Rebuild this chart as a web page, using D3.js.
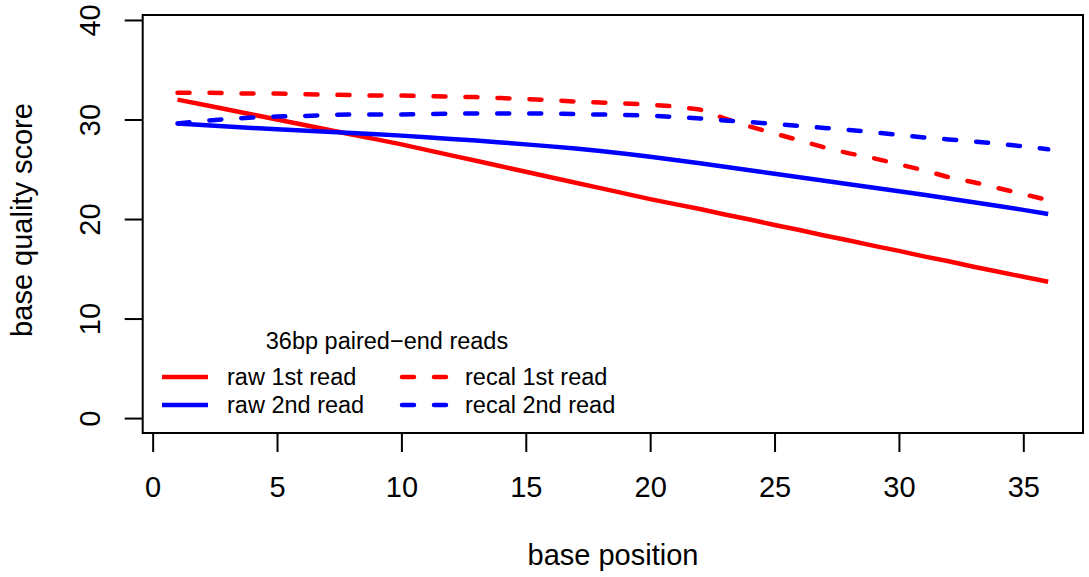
<!DOCTYPE html>
<html>
<head>
<meta charset="utf-8">
<script src="https://cdn.jsdelivr.net/npm/d3@7"></script>
<style>
  body { margin: 0; background: #fff; }
  svg text { font-family: "Liberation Sans", Arial, Helvetica, sans-serif; fill: #000; }
</style>
</head>
<body>
<svg id="chart"></svg>
<script>
// base positions 1..36
let positions = d3.range(1, 37);

let raw1st = [32.0, 31.5, 31.0, 30.5, 30.0, 29.5, 29.0, 28.5, 28.0, 27.5, 26.95, 26.4,
  25.85, 25.3, 24.75, 24.2, 23.65, 23.1, 22.55, 22.0, 21.5, 21.0, 20.45, 19.95,
  19.4, 18.9, 18.35, 17.85, 17.3, 16.8, 16.25, 15.75, 15.2, 14.7, 14.2, 13.7];

let raw2nd = [29.6, 29.45, 29.3, 29.15, 29.02, 28.9, 28.78, 28.65, 28.52, 28.38, 28.22, 28.05,
  27.88, 27.7, 27.5, 27.3, 27.08, 26.84, 26.56, 26.26, 25.94, 25.6, 25.25, 24.9,
  24.55, 24.2, 23.85, 23.5, 23.15, 22.8, 22.43, 22.06, 21.69, 21.31, 20.92, 20.5];

let recal1st = [32.7, 32.7, 32.65, 32.6, 32.6, 32.55, 32.5, 32.45, 32.4, 32.4, 32.35, 32.3,
  32.25, 32.15, 32.05, 31.95, 31.8, 31.7, 31.6, 31.5, 31.3, 31.0, 30.1, 29.3,
  28.6, 27.9, 27.2, 26.6, 26.1, 25.5, 24.9, 24.2, 23.7, 23.1, 22.5, 21.9];

let recal2nd = [29.6, 29.85, 30.05, 30.2, 30.3, 30.35, 30.45, 30.5, 30.5, 30.5, 30.55, 30.6,
  30.6, 30.6, 30.6, 30.6, 30.55, 30.5, 30.45, 30.4, 30.25, 30.1, 29.9, 29.75,
  29.55, 29.35, 29.15, 28.95, 28.7, 28.45, 28.2, 28.0, 27.8, 27.55, 27.3, 27.0];

let xTicks = [0, 5, 10, 15, 20, 25, 30, 35];
let yTicks = [0, 10, 20, 30, 40];

let seriesNames = ["raw 1st read", "raw 2nd read", "recal 1st read", "recal 2nd read"];
let seriesColors = ["#ff0000", "#0000ff", "#ff0000", "#0000ff"];
let seriesDashed = [false, false, true, true];
let seriesValues = [raw1st, raw2nd, recal1st, recal2nd];

let legendTitle = "36bp paired\u2212end reads";

let config = {
  'svg': { width: 1089, height: 577 },
  'plot': { left: 142.7, right: 1083, top: 15, bottom: 433 },
  'legend': {}
};

config.legend.titleX = 387;
config.legend.titleY = 349;
config.legend.rowY = [377, 405];
config.legend.colX = [162, 400];
config.legend.lineLength = 46;
config.legend.textOffset = 65;

let svg = d3.select("svg#chart")
  .attr("width", config.svg.width)
  .attr("height", config.svg.height);

let scale = {};
scale.x = d3.scaleLinear()
  .domain([-0.4, 37.4])
  .range([config.plot.left, config.plot.right]);
scale.y = d3.scaleLinear()
  .domain([-1.5, 40.5])
  .range([config.plot.bottom, config.plot.top]);

// axes
let axis = {};
axis.x = d3.axisBottom(scale.x).tickValues(xTicks).tickSize(19).tickSizeOuter(0).tickPadding(0);
axis.y = d3.axisLeft(scale.y).tickValues(yTicks).tickSize(18).tickSizeOuter(0).tickPadding(0);

let gx = svg.append("g")
  .attr("transform", translate(0, config.plot.bottom))
  .call(axis.x);
gx.select(".domain").remove();
gx.selectAll("line").attr("stroke", "#000").attr("stroke-width", 2);
gx.selectAll("text")
  .attr("y", 64)
  .attr("dy", 0)
  .attr("font-size", "29px");

let gy = svg.append("g")
  .attr("transform", translate(config.plot.left, 0))
  .call(axis.y);
gy.select(".domain").remove();
gy.selectAll("line").attr("stroke", "#000").attr("stroke-width", 2);
gy.selectAll("text")
  .attr("x", 0)
  .attr("y", -43)
  .attr("dy", 0)
  .attr("text-anchor", "middle")
  .attr("transform", "rotate(-90)")
  .attr("font-size", "29px");

// lines
let line = d3.line()
  .x((d, i) => scale.x(positions[i]))
  .y(d => scale.y(d));

seriesValues.forEach(function(values, k) {
  svg.append("path")
    .datum(values)
    .attr("d", line)
    .attr("fill", "none")
    .attr("stroke", seriesColors[k])
    .attr("stroke-width", 4.5)
    .attr("stroke-linecap", seriesDashed[k] ? "round" : "butt")
    .attr("stroke-linejoin", "round")
    .attr("stroke-dasharray", seriesDashed[k] ? "12,20" : null);
});

// plot box
svg.append("rect")
  .attr("x", config.plot.left)
  .attr("y", config.plot.top)
  .attr("width", config.plot.right - config.plot.left)
  .attr("height", config.plot.bottom - config.plot.top)
  .attr("fill", "none")
  .attr("stroke", "#000")
  .attr("stroke-width", 2);

// axis titles
svg.append("text")
  .text("base position")
  .attr("x", 613)
  .attr("y", 565)
  .attr("text-anchor", "middle")
  .attr("font-size", "29px");

svg.append("text")
  .text("base quality score")
  .attr("transform", translate(32, 220) + " rotate(-90)")
  .attr("text-anchor", "middle")
  .attr("font-size", "29px");

drawLegend();

function drawLegend() {
  let legend = svg.append("g").attr("id", "legend");

  legend.append("text")
    .text(legendTitle)
    .attr("x", config.legend.titleX)
    .attr("y", config.legend.titleY)
    .attr("text-anchor", "middle")
    .attr("font-size", "23.5px");

  seriesNames.forEach(function(name, k) {
    let col = Math.floor(k / 2);
    let row = k % 2;
    let x0 = config.legend.colX[col];
    let y0 = config.legend.rowY[row];

    legend.append("line")
      .attr("x1", x0 + (seriesDashed[k] ? 2 : 0))
      .attr("x2", x0 + config.legend.lineLength)
      .attr("y1", y0)
      .attr("y2", y0)
      .attr("stroke", seriesColors[k])
      .attr("stroke-width", 4.5)
      .attr("stroke-linecap", seriesDashed[k] ? "round" : "butt")
      .attr("stroke-dasharray", seriesDashed[k] ? "12,20" : null);

    legend.append("text")
      .text(name)
      .attr("x", x0 + config.legend.textOffset)
      .attr("y", y0 + 8)
      .attr("font-size", "23.5px");
  });
}

function translate(x, y) {
  return 'translate(' + x + ',' + y + ')';
}
</script>
</body>
</html>
